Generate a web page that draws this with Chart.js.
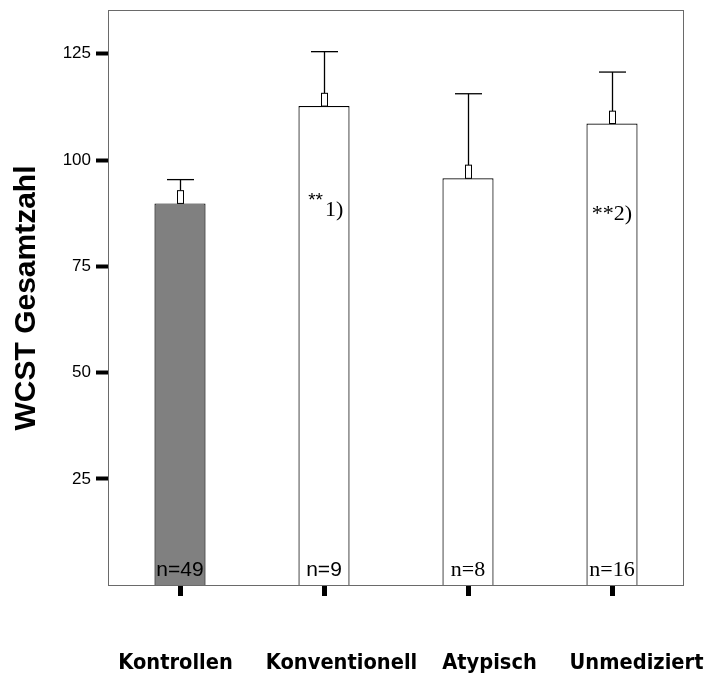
<!DOCTYPE html>
<html><head><meta charset="utf-8">
<script src="https://cdn.jsdelivr.net/npm/chart.js@4"></script>
<style>html,body{margin:0;padding:0;background:#fff}#wrap{width:709px;height:675px;position:relative}</style>
</head><body><div id="wrap"><canvas id="c"></canvas></div>
<script>
// ---- data ----
const categories = ['Kontrollen', 'Konventionell', 'Atypisch', 'Unmediziert'];
const means = [89.8, 112.7, 95.7, 108.6];
const upperWhisker = [95.4, 125.5, 115.6, 120.7];
const boxTop = [92.8, 115.7, 98.8, 111.5];
const nLabels = ['n=49', 'n=9', 'n=8', 'n=16'];
const yTicks = [25, 50, 75, 100, 125];
const yTitle = 'WCST Gesamtzahl';
const noteStars = ['', '**', '', '**'];
const noteRefs = ['', '1)', '', '2)'];

// ---- style / layout (not data) ----
const barFills = ['#808080', '#ffffff', '#ffffff', '#ffffff'];
const nFonts = ['21px "Liberation Sans"', '21px "Liberation Sans"', '22px "Liberation Serif"', '22px "Liberation Serif"'];
const noteLevel = [0, 86.8, 0, 85.9];
const labelShift = [-4.5, 17.5, 21.5, 24.5];

const overlay = {
  id: 'overlay',
  afterDatasetsDraw(chart) {
    const ctx = chart.ctx, a = chart.chartArea;
    const xs = chart.scales.x, ys = chart.scales.y;
    const meta = chart.getDatasetMeta(0);
    ctx.save();
    // frame
    ctx.strokeStyle = '#6a6a6a'; ctx.lineWidth = 1;
    ctx.strokeRect(Math.round(a.left) + 0.5, Math.round(a.top) + 0.5, Math.round(a.right - a.left) - 1, Math.round(a.bottom - a.top) - 1);
    // error bars
    meta.data.forEach((bar, i) => {
      const cx = Math.round(bar.x) + 0.5;
      const yM = ys.getPixelForValue(means[i]);
      const yB = ys.getPixelForValue(boxTop[i]);
      const yU = ys.getPixelForValue(upperWhisker[i]);
      ctx.strokeStyle = '#000'; ctx.lineWidth = 1.3;
      ctx.beginPath(); ctx.moveTo(cx, yB); ctx.lineTo(cx, yU); ctx.stroke();
      ctx.beginPath(); ctx.moveTo(cx - 13.5, yU); ctx.lineTo(cx + 13.5, yU); ctx.stroke();
      ctx.lineWidth = 1;
      ctx.fillStyle = '#fff';
      ctx.fillRect(cx - 3, yB, 6, yM - yB);
      ctx.strokeRect(cx - 3, yB, 6, yM - yB);
    });
    // n labels
    ctx.fillStyle = '#000';
    ctx.textBaseline = 'alphabetic';
    ctx.textAlign = 'center';
    const y0 = ys.getPixelForValue(0);
    meta.data.forEach((bar, i) => {
      ctx.font = nFonts[i];
      ctx.fillText(nLabels[i], bar.x, y0 - 9);
    });
    // notes
    meta.data.forEach((bar, i) => {
      if (!noteRefs[i]) return;
      const yy = ys.getPixelForValue(noteLevel[i]);
      if (i === 1) {
        ctx.font = '19px "Liberation Sans"';
        ctx.textAlign = 'right';
        ctx.fillText(noteStars[i], bar.x - 1, yy - 10);
        ctx.font = '22px "Liberation Serif"';
        ctx.textAlign = 'left';
        ctx.fillText(noteRefs[i], bar.x + 1, yy);
      } else {
        ctx.font = '22px "Liberation Serif"';
        ctx.textAlign = 'center';
        ctx.fillText(noteStars[i] + noteRefs[i], bar.x, yy);
      }
    });
    // category labels
    ctx.textAlign = 'center';
    ctx.font = 'bold 22px "DejaVu Sans"';
    categories.forEach((c, i) => {
      const px = xs.getPixelForValue(i) + labelShift[i];
      ctx.save();
      ctx.translate(px, 669);
      ctx.scale(0.885, 1);
      ctx.fillText(c, 0, 0);
      ctx.restore();
    });
    ctx.restore();
  }
};

new Chart(document.getElementById('c'), {
  type: 'bar',
  data: {
    labels: categories,
    datasets: [{
      data: means,
      backgroundColor: barFills,
      borderColor: '#000',
      borderWidth: 1.2,
      categoryPercentage: 1,
      barPercentage: 0.355
    }]
  },
  options: {
    responsive: true,
    maintainAspectRatio: false,
    animation: false,
    devicePixelRatio: 1,
    layout: { padding: { left: 5, right: 25, top: 10, bottom: 0 } },
    plugins: { legend: { display: false }, tooltip: { enabled: false } },
    scales: {
      x: {
        offset: true,
        grid: { display: true, drawOnChartArea: false, offset: false, tickLength: 10, tickWidth: 5, tickColor: '#000' },
        border: { display: false },
        ticks: { display: false },
        afterFit(s) { s.height = 89; s.paddingLeft = 0; s.paddingRight = 0; }
      },
      y: {
        min: -0.2, max: 135.3,
        grid: { drawOnChartArea: false, tickLength: 12, tickWidth: 4, tickColor: '#000' },
        border: { display: false },
        afterBuildTicks(s) { s.ticks = yTicks.map(v => ({ value: v })); },
        ticks: { color: '#000', padding: 5, font: { family: '"Liberation Sans"', size: 17 } },
        title: { display: true, text: yTitle, color: '#000', padding: { top: 4, bottom: 0 },
                 font: { family: '"Liberation Sans"', size: 30, weight: 'bold', lineHeight: 1.2 } },
        afterFit(s) { s.width = 103; s.paddingTop = 0; s.paddingBottom = 0; }
      }
    }
  },
  plugins: [overlay]
});
</script>
</body></html>
